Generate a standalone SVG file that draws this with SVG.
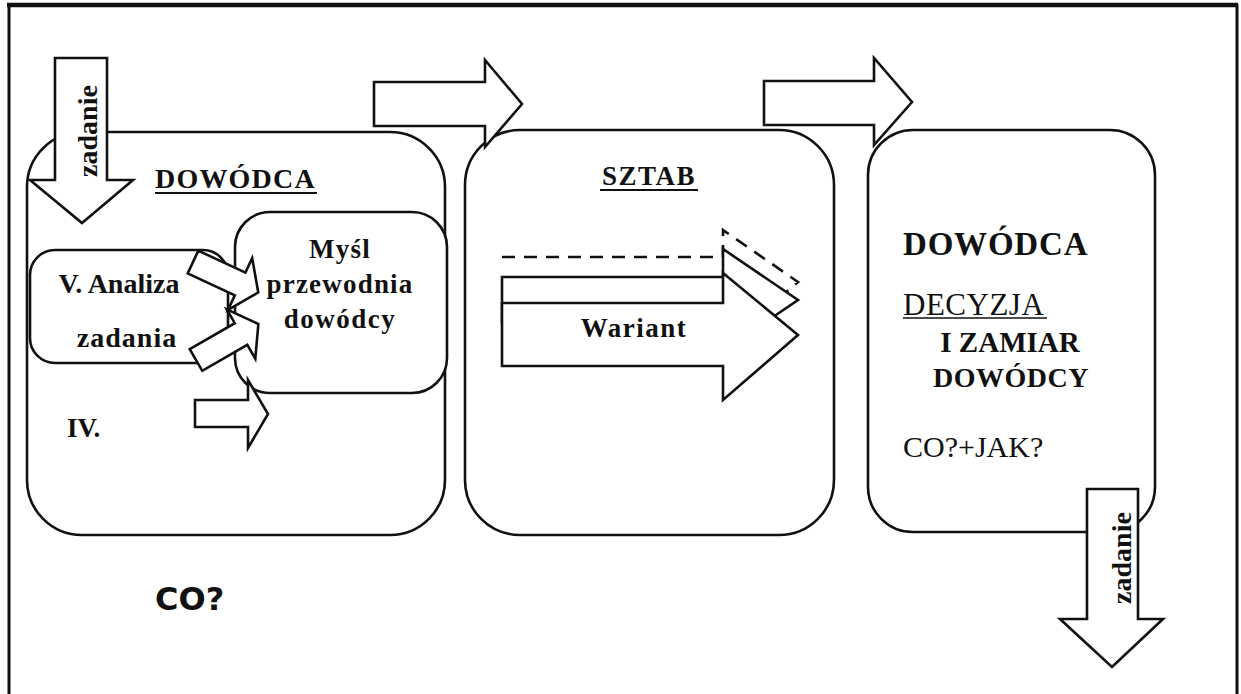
<svg xmlns="http://www.w3.org/2000/svg" width="1241" height="694" viewBox="0 0 1241 694">
<style>
.box{fill:#fff;stroke:#111;stroke-width:2.6}
.arr{fill:#fff;stroke:#111;stroke-width:2.6;stroke-linejoin:miter}
.t{font-weight:bold;fill:#111}
.r{font-weight:normal;fill:#111}
.ul{stroke:#111;stroke-width:2}
</style>
<rect x="0" y="0" width="1241" height="694" fill="#fff"/>
<g id="frame" fill="none" stroke="#111">
<line x1="7" y1="5" x2="1238" y2="5" stroke-width="4.5"/>
<line x1="9" y1="4" x2="9" y2="694" stroke-width="3"/>
<line x1="1237" y1="4" x2="1237" y2="694" stroke-width="3"/>
</g>
<g font-family="Liberation Serif, Times New Roman, DejaVu Serif, serif">
<g id="node-dowodca-left">
<rect class="box" x="27" y="132" width="418" height="403" rx="55"/>
<text class="t" x="155" y="188" font-size="28" letter-spacing="1.2">DOWÓDCA</text>
<line class="ul" x1="155" y1="193" x2="317" y2="193"/>
</g>
<g id="node-zadanie-in">
<polygon class="arr" points="55,58 107,58 107,180 133,180 82,223 30,180 55,180"/>
<text class="t" font-size="28" text-anchor="middle" transform="translate(97,131) rotate(-90)">zadanie</text>
</g>
<g id="node-analiza">
<rect class="box" x="30" y="250" width="198" height="113" rx="25"/>
<text class="t" x="119" y="293" font-size="28" text-anchor="middle">V. Analiza</text>
<text class="t" x="127" y="347" font-size="28" text-anchor="middle" letter-spacing="1">zadania</text>
</g>
<g id="node-mysl">
<rect class="box" x="235" y="212" width="212" height="181" rx="35"/>
<text class="t" x="340" y="258" font-size="27" text-anchor="middle" letter-spacing="1.2">Myśl</text>
<text class="t" x="340" y="293" font-size="27" text-anchor="middle" letter-spacing="1.2">przewodnia</text>
<text class="t" x="340" y="328" font-size="27" text-anchor="middle" letter-spacing="1.5">dowódcy</text>
</g>
<g id="node-iv">
<text class="t" x="67" y="437" font-size="27">IV.</text>
</g>
<g id="node-sztab">
<rect class="box" x="465" y="130" width="369" height="405" rx="55"/>
<text class="t" x="649" y="185" font-size="27" text-anchor="middle" letter-spacing="1.5">SZTAB</text>
<line class="ul" x1="600" y1="190" x2="698" y2="190"/>
</g>
<g id="node-wariant">
<polyline points="502,257 723,257 723,230 798,282 785,293" fill="none" stroke="#111" stroke-width="2.6" stroke-dasharray="13,9"/>
<polygon class="arr" points="502,277 723,277 723,249 798,300 723,351 723,323 502,323"/>
<polygon class="arr" points="502,303 723,303 723,273 798,335 723,400 723,366 502,366"/>
<text class="t" x="634" y="337" font-size="27" text-anchor="middle" letter-spacing="1.5">Wariant</text>
</g>
<g id="node-dowodca-right">
<rect class="box" x="868" y="130" width="287" height="402" rx="45"/>
<text class="t" x="903" y="255" font-size="33" letter-spacing="0.8">DOWÓDCA</text>
<text class="r" x="903" y="315" font-size="31" letter-spacing="0.5">DECYZJA</text>
<line x1="903" y1="318" x2="1047" y2="318" stroke="#111" stroke-width="1.5"/>
<text class="t" x="1010" y="352" font-size="29" text-anchor="middle">I ZAMIAR</text>
<text class="t" x="1011" y="387" font-size="28" text-anchor="middle" letter-spacing="0.5">DOWÓDCY</text>
<text class="r" x="903" y="457" font-size="30">CO?+JAK?</text>
</g>
<g id="node-zadanie-out">
<polygon class="arr" points="1087,489 1138,489 1138,619 1163,619 1112,667 1060,619 1087,619"/>
<text class="t" font-size="28" text-anchor="middle" transform="translate(1131,558) rotate(-90)">zadanie</text>
</g>
</g>
<g id="node-co">
<text x="155" y="610" font-family="DejaVu Sans, sans-serif" font-weight="bold" font-size="32" fill="#111">CO?</text>
</g>
<g id="connectors">
<polygon class="arr" transform="translate(193,262) rotate(25)" points="0,-12.5 52,-12.5 52,-28.5 72,0 52,28.5 52,12.5 0,12.5"/>
<polygon class="arr" transform="translate(196,360) rotate(-30)" points="0,-12.5 52,-12.5 52,-28.5 72,0 52,28.5 52,12.5 0,12.5"/>
<polygon class="arr" points="195,400 248,400 248,380 268,414 248,448 248,427 195,427"/>
<polygon class="arr" points="374,82 485,82 485,60 522,104 485,147 485,126 374,126"/>
<polygon class="arr" points="764,81 874,81 874,58 912,102 874,145 874,125 764,125"/>
</g>
</svg>
